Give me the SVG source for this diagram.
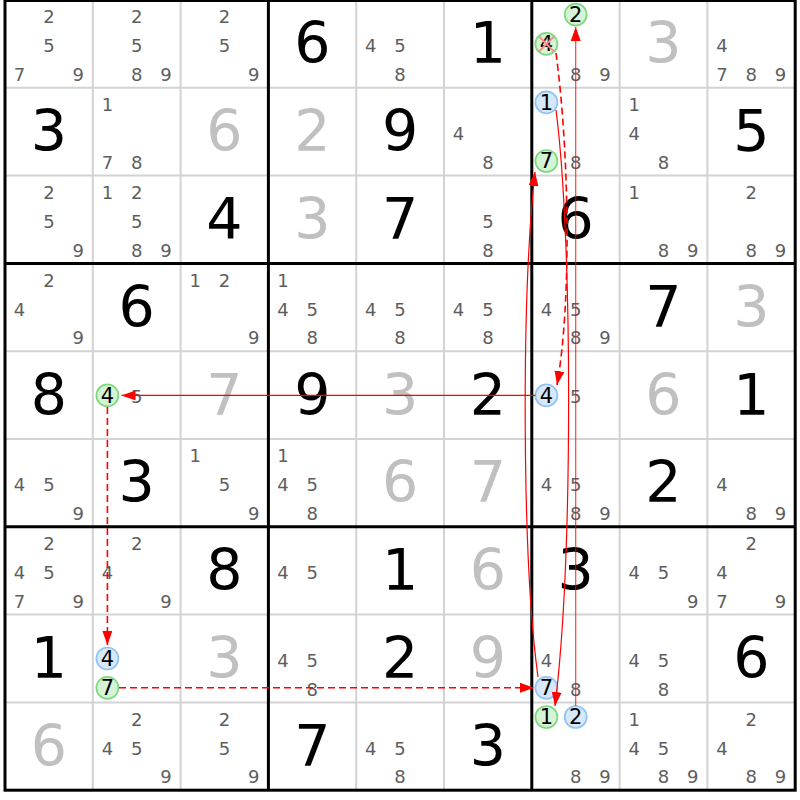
<svg xmlns="http://www.w3.org/2000/svg" width="800" height="800" viewBox="0 0 800 800">
<style>
text{font-family:"DejaVu Sans","Liberation Sans",sans-serif;text-anchor:middle}
.g{font-size:57px;fill:#000}
.s{font-size:57px;fill:#c0c0c0}
.c{font-size:18px;fill:#5e5e5e}
.cc{font-size:21px;fill:#000}
.gr{fill:#d5f3d5;stroke:#7fd87f;stroke-width:1.7}
.bl{fill:#d8e8fb;stroke:#90c4f4;stroke-width:1.7}
.thin{stroke:#d3d3d3;stroke-width:2;fill:none}
.thick{stroke:#000;stroke-width:3;fill:none}
.ln{stroke:#ff0000;stroke-width:1.2;fill:none}
.dl{stroke:#ff0000;stroke-width:1.6;fill:none;stroke-dasharray:7 4}
.x{stroke:#ff8a8a;stroke-width:2}
</style>
<defs>
<marker id="ah" markerUnits="userSpaceOnUse" markerWidth="15" markerHeight="11" refX="14" refY="5" orient="auto">
<path d="M0,0 L14,5 L0,10 z" fill="#ff0000"/>
</marker>
</defs>
<rect x="0" y="0" width="800" height="800" fill="#fff"/>
<g id="grid">
<path class="thin" d="M92.8,0V790.2M180.6,0V790.2M356.2,0V790.2M444,0V790.2M619.6,0V790.2M707.4,0V790.2M5,87.8H795.2M5,175.6H795.2M5,351.2H795.2M5,439H795.2M5,614.6H795.2M5,702.4H795.2"/>
<path class="thick" d="M268.4,0V790.2M531.8,0V790.2M5,263.4H795.2M5,526.8H795.2"/>
<rect class="thick" x="5" y="0.5" width="790.2" height="789.7"/>
</g>
<g id="cells">
<g id="r0c0"><text class="c" x="48.9" y="23.3">2</text><text class="c" x="48.9" y="52.1">5</text><text class="c" x="19.6" y="80.9">7</text><text class="c" x="78.2" y="80.9">9</text></g>
<g id="r0c1"><text class="c" x="136.7" y="23.3">2</text><text class="c" x="136.7" y="52.1">5</text><text class="c" x="136.7" y="80.9">8</text><text class="c" x="166" y="80.9">9</text></g>
<g id="r0c2"><text class="c" x="224.5" y="23.3">2</text><text class="c" x="224.5" y="52.1">5</text><text class="c" x="253.8" y="80.9">9</text></g>
<g id="r0c3"><text class="g" x="312.3" y="63.4">6</text></g>
<g id="r0c4"><text class="c" x="370.8" y="52.1">4</text><text class="c" x="400.1" y="52.1">5</text><text class="c" x="400.1" y="80.9">8</text></g>
<g id="r0c5"><text class="g" x="487.9" y="63.4">1</text></g>
<g id="r0c6"><circle class="gr" cx="575.7" cy="14.6" r="11"/><text class="cc" x="575.7" y="22">2</text><circle class="gr" cx="546.4" cy="43.9" r="11"/><text class="cc" x="546.4" y="51.3">4</text><path class="x" d="M539,36.5L554,51.5M554,36.5L539,51.5"/><text class="c" x="575.7" y="80.9">8</text><text class="c" x="605" y="80.9">9</text></g>
<g id="r0c7"><text class="s" x="663.5" y="63.4">3</text></g>
<g id="r0c8"><text class="c" x="722" y="52.1">4</text><text class="c" x="722" y="80.9">7</text><text class="c" x="751.3" y="80.9">8</text><text class="c" x="780.6" y="80.9">9</text></g>

<g id="r1c0"><text class="g" x="48.9" y="151.2">3</text></g>
<g id="r1c1"><text class="c" x="107.4" y="111.1">1</text><text class="c" x="107.4" y="168.7">7</text><text class="c" x="136.7" y="168.7">8</text></g>
<g id="r1c2"><text class="s" x="224.5" y="151.2">6</text></g>
<g id="r1c3"><text class="s" x="312.3" y="151.2">2</text></g>
<g id="r1c4"><text class="g" x="400.1" y="151.2">9</text></g>
<g id="r1c5"><text class="c" x="458.6" y="139.9">4</text><text class="c" x="487.9" y="168.7">8</text></g>
<g id="r1c6"><circle class="bl" cx="546.4" cy="102.4" r="11"/><text class="cc" x="546.4" y="109.8">1</text><circle class="gr" cx="546.4" cy="161" r="11"/><text class="cc" x="546.4" y="168.4">7</text><text class="c" x="575.7" y="168.7">8</text></g>
<g id="r1c7"><text class="c" x="634.2" y="111.1">1</text><text class="c" x="634.2" y="139.9">4</text><text class="c" x="663.5" y="168.7">8</text></g>
<g id="r1c8"><text class="g" x="751.3" y="151.2">5</text></g>

<g id="r2c0"><text class="c" x="48.9" y="198.9">2</text><text class="c" x="48.9" y="227.7">5</text><text class="c" x="78.2" y="256.5">9</text></g>
<g id="r2c1"><text class="c" x="107.4" y="198.9">1</text><text class="c" x="136.7" y="198.9">2</text><text class="c" x="136.7" y="227.7">5</text><text class="c" x="136.7" y="256.5">8</text><text class="c" x="166" y="256.5">9</text></g>
<g id="r2c2"><text class="g" x="224.5" y="239">4</text></g>
<g id="r2c3"><text class="s" x="312.3" y="239">3</text></g>
<g id="r2c4"><text class="g" x="400.1" y="239">7</text></g>
<g id="r2c5"><text class="c" x="487.9" y="227.7">5</text><text class="c" x="487.9" y="256.5">8</text></g>
<g id="r2c6"><text class="g" x="575.7" y="239">6</text></g>
<g id="r2c7"><text class="c" x="634.2" y="198.9">1</text><text class="c" x="663.5" y="256.5">8</text><text class="c" x="692.8" y="256.5">9</text></g>
<g id="r2c8"><text class="c" x="751.3" y="198.9">2</text><text class="c" x="751.3" y="256.5">8</text><text class="c" x="780.6" y="256.5">9</text></g>

<g id="r3c0"><text class="c" x="48.9" y="286.7">2</text><text class="c" x="19.6" y="315.5">4</text><text class="c" x="78.2" y="344.3">9</text></g>
<g id="r3c1"><text class="g" x="136.7" y="326.8">6</text></g>
<g id="r3c2"><text class="c" x="195.2" y="286.7">1</text><text class="c" x="224.5" y="286.7">2</text><text class="c" x="253.8" y="344.3">9</text></g>
<g id="r3c3"><text class="c" x="283" y="286.7">1</text><text class="c" x="283" y="315.5">4</text><text class="c" x="312.3" y="315.5">5</text><text class="c" x="312.3" y="344.3">8</text></g>
<g id="r3c4"><text class="c" x="370.8" y="315.5">4</text><text class="c" x="400.1" y="315.5">5</text><text class="c" x="400.1" y="344.3">8</text></g>
<g id="r3c5"><text class="c" x="458.6" y="315.5">4</text><text class="c" x="487.9" y="315.5">5</text><text class="c" x="487.9" y="344.3">8</text></g>
<g id="r3c6"><text class="c" x="546.4" y="315.5">4</text><text class="c" x="575.7" y="315.5">5</text><text class="c" x="575.7" y="344.3">8</text><text class="c" x="605" y="344.3">9</text></g>
<g id="r3c7"><text class="g" x="663.5" y="326.8">7</text></g>
<g id="r3c8"><text class="s" x="751.3" y="326.8">3</text></g>

<g id="r4c0"><text class="g" x="48.9" y="414.6">8</text></g>
<g id="r4c1"><circle class="gr" cx="107.4" cy="395.4" r="11"/><text class="cc" x="107.4" y="402.8">4</text><text class="c" x="136.7" y="403.3">5</text></g>
<g id="r4c2"><text class="s" x="224.5" y="414.6">7</text></g>
<g id="r4c3"><text class="g" x="312.3" y="414.6">9</text></g>
<g id="r4c4"><text class="s" x="400.1" y="414.6">3</text></g>
<g id="r4c5"><text class="g" x="487.9" y="414.6">2</text></g>
<g id="r4c6"><circle class="bl" cx="546.4" cy="395.4" r="11"/><text class="cc" x="546.4" y="402.8">4</text><text class="c" x="575.7" y="403.3">5</text></g>
<g id="r4c7"><text class="s" x="663.5" y="414.6">6</text></g>
<g id="r4c8"><text class="g" x="751.3" y="414.6">1</text></g>

<g id="r5c0"><text class="c" x="19.6" y="491.1">4</text><text class="c" x="48.9" y="491.1">5</text><text class="c" x="78.2" y="519.9">9</text></g>
<g id="r5c1"><text class="g" x="136.7" y="502.4">3</text></g>
<g id="r5c2"><text class="c" x="195.2" y="462.3">1</text><text class="c" x="224.5" y="491.1">5</text><text class="c" x="253.8" y="519.9">9</text></g>
<g id="r5c3"><text class="c" x="283" y="462.3">1</text><text class="c" x="283" y="491.1">4</text><text class="c" x="312.3" y="491.1">5</text><text class="c" x="312.3" y="519.9">8</text></g>
<g id="r5c4"><text class="s" x="400.1" y="502.4">6</text></g>
<g id="r5c5"><text class="s" x="487.9" y="502.4">7</text></g>
<g id="r5c6"><text class="c" x="546.4" y="491.1">4</text><text class="c" x="575.7" y="491.1">5</text><text class="c" x="575.7" y="519.9">8</text><text class="c" x="605" y="519.9">9</text></g>
<g id="r5c7"><text class="g" x="663.5" y="502.4">2</text></g>
<g id="r5c8"><text class="c" x="722" y="491.1">4</text><text class="c" x="751.3" y="519.9">8</text><text class="c" x="780.6" y="519.9">9</text></g>

<g id="r6c0"><text class="c" x="48.9" y="550.1">2</text><text class="c" x="19.6" y="578.9">4</text><text class="c" x="48.9" y="578.9">5</text><text class="c" x="19.6" y="607.7">7</text><text class="c" x="78.2" y="607.7">9</text></g>
<g id="r6c1"><text class="c" x="136.7" y="550.1">2</text><text class="c" x="107.4" y="578.9">4</text><text class="c" x="166" y="607.7">9</text></g>
<g id="r6c2"><text class="g" x="224.5" y="590.2">8</text></g>
<g id="r6c3"><text class="c" x="283" y="578.9">4</text><text class="c" x="312.3" y="578.9">5</text></g>
<g id="r6c4"><text class="g" x="400.1" y="590.2">1</text></g>
<g id="r6c5"><text class="s" x="487.9" y="590.2">6</text></g>
<g id="r6c6"><text class="g" x="575.7" y="590.2">3</text></g>
<g id="r6c7"><text class="c" x="634.2" y="578.9">4</text><text class="c" x="663.5" y="578.9">5</text><text class="c" x="692.8" y="607.7">9</text></g>
<g id="r6c8"><text class="c" x="751.3" y="550.1">2</text><text class="c" x="722" y="578.9">4</text><text class="c" x="722" y="607.7">7</text><text class="c" x="780.6" y="607.7">9</text></g>

<g id="r7c0"><text class="g" x="48.9" y="678">1</text></g>
<g id="r7c1"><circle class="bl" cx="107.4" cy="658.5" r="11"/><text class="cc" x="107.4" y="665.9">4</text><circle class="gr" cx="107.4" cy="687.8" r="11"/><text class="cc" x="107.4" y="695.2">7</text></g>
<g id="r7c2"><text class="s" x="224.5" y="678">3</text></g>
<g id="r7c3"><text class="c" x="283" y="666.7">4</text><text class="c" x="312.3" y="666.7">5</text><text class="c" x="312.3" y="695.5">8</text></g>
<g id="r7c4"><text class="g" x="400.1" y="678">2</text></g>
<g id="r7c5"><text class="s" x="487.9" y="678">9</text></g>
<g id="r7c6"><text class="c" x="546.4" y="666.7">4</text><circle class="bl" cx="546.4" cy="687.8" r="11"/><text class="cc" x="546.4" y="695.2">7</text><text class="c" x="575.7" y="695.5">8</text></g>
<g id="r7c7"><text class="c" x="634.2" y="666.7">4</text><text class="c" x="663.5" y="666.7">5</text><text class="c" x="663.5" y="695.5">8</text></g>
<g id="r7c8"><text class="g" x="751.3" y="678">6</text></g>

<g id="r8c0"><text class="s" x="48.9" y="765.8">6</text></g>
<g id="r8c1"><text class="c" x="136.7" y="725.7">2</text><text class="c" x="107.4" y="754.5">4</text><text class="c" x="136.7" y="754.5">5</text><text class="c" x="166" y="783.3">9</text></g>
<g id="r8c2"><text class="c" x="224.5" y="725.7">2</text><text class="c" x="224.5" y="754.5">5</text><text class="c" x="253.8" y="783.3">9</text></g>
<g id="r8c3"><text class="g" x="312.3" y="765.8">7</text></g>
<g id="r8c4"><text class="c" x="370.8" y="754.5">4</text><text class="c" x="400.1" y="754.5">5</text><text class="c" x="400.1" y="783.3">8</text></g>
<g id="r8c5"><text class="g" x="487.9" y="765.8">3</text></g>
<g id="r8c6"><circle class="gr" cx="546.4" cy="717" r="11"/><text class="cc" x="546.4" y="724.4">1</text><circle class="bl" cx="575.7" cy="717" r="11"/><text class="cc" x="575.7" y="724.4">2</text><text class="c" x="575.7" y="783.3">8</text><text class="c" x="605" y="783.3">9</text></g>
<g id="r8c7"><text class="c" x="634.2" y="725.7">1</text><text class="c" x="634.2" y="754.5">4</text><text class="c" x="663.5" y="754.5">5</text><text class="c" x="663.5" y="783.3">8</text><text class="c" x="692.8" y="783.3">9</text></g>
<g id="r8c8"><text class="c" x="751.3" y="725.7">2</text><text class="c" x="722" y="754.5">4</text><text class="c" x="751.3" y="783.3">8</text><text class="c" x="780.6" y="783.3">9</text></g>
</g>
<g id="connectors">
<path class="ln" d="M535.5,395.4L121.5,395.4" marker-end="url(#ah)"/>
<path class="dl" d="M107.4,407L107.4,645" marker-end="url(#ah)"/>
<path class="dl" d="M119,687.8L534,687.8" marker-end="url(#ah)"/>
<path class="ln" d="M538,677C522,560 521,300 535,172" marker-end="url(#ah)"/>
<path class="ln" d="M556,110C573,240 573,560 555,706" marker-end="url(#ah)"/>
<path class="ln" stroke-opacity="0.75" d="M575.7,706L575.7,27" marker-end="url(#ah)"/>
<path class="dl" d="M556,53C569,150 572,300 557,385" marker-end="url(#ah)"/>
</g>
</svg>
